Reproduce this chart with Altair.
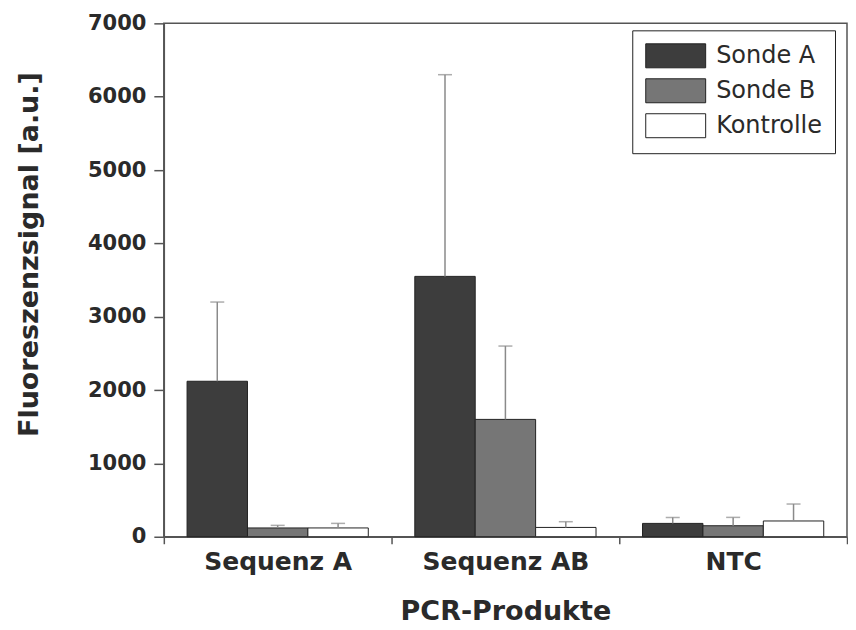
import altair as alt
import pandas as pd

categories = ["Sequenz A", "Sequenz AB", "NTC"]
probes = ["Sonde A", "Sonde B", "Kontrolle"]
colors = ["#3d3d3d", "#767676", "#ffffff"]

sonde_a_mean = [2120, 3550, 182]
sonde_a_err = [1080, 2750, 82]
sonde_b_mean = [120, 1600, 150]
sonde_b_err = [35, 1000, 114]
kontrolle_mean = [120, 127, 215]
kontrolle_err = [62, 78, 231]

y_ticks = list(range(0, 7001, 500))

rows = []
for probe, means, errs in [("Sonde A", sonde_a_mean, sonde_a_err),
                           ("Sonde B", sonde_b_mean, sonde_b_err),
                           ("Kontrolle", kontrolle_mean, kontrolle_err)]:
    for c, m, e in zip(categories, means, errs):
        rows.append({"cat": c, "probe": probe, "mean": m, "upper": m + e})
df = pd.DataFrame(rows)

FONT = "DejaVu Sans"
TXT = "#2a2a2a"
AX = "#555555"

x_enc = alt.X("cat:N", sort=categories,
              scale=alt.Scale(paddingInner=0, paddingOuter=0),
              axis=alt.Axis(title="PCR-Produkte", labelAngle=0, tickBand="extent",
                            tickSize=7, tickColor=AX, tickWidth=1.5,
                            domainColor=AX, domainWidth=1.5,
                            labelFont=FONT, labelFontWeight="bold", labelFontSize=25,
                            labelColor=TXT, labelPadding=6,
                            titleFont=FONT, titleFontWeight="bold", titleFontSize=27,
                            titleColor=TXT, titlePadding=24))
xo_enc = alt.XOffset("probe:N", sort=probes,
                     scale=alt.Scale(paddingInner=0, paddingOuter=0.385))
y_scale = alt.Scale(domain=[0, 7000], nice=False)
y_axis = alt.Axis(title="Fluoreszenzsignal [a.u.]", values=y_ticks, format="d",
                  labelExpr="datum.value % 1000 == 0 ? datum.label : ''",
                  tickSize=10, tickColor=AX, tickWidth=1.5,
                  tickDash={"condition": {"test": "datum.value % 1000 != 0", "value": [4, 30]},
                            "value": [20, 0]},
                  domainColor=AX, domainWidth=1.5, grid=False,
                  labelFont=FONT, labelFontWeight="bold", labelFontSize=21,
                  labelColor=TXT, labelPadding=8,
                  titleFont=FONT, titleFontWeight="bold", titleFontSize=27,
                  titleColor=TXT, titlePadding=44, titleY=231)

bars = alt.Chart(df).mark_bar(stroke="#222222", strokeWidth=1, opacity=1).encode(
    x=x_enc,
    xOffset=xo_enc,
    y=alt.Y("mean:Q", scale=y_scale, axis=y_axis),
    color=alt.Color("probe:N", sort=probes,
                    scale=alt.Scale(domain=probes, range=colors),
                    legend=alt.Legend(title=None, orient="none", legendX=469, legendY=7,
                                      symbolType="M-1,-1H4V1H-1Z", symbolSize=576,
                                      symbolStrokeColor="#222222", symbolStrokeWidth=1,
                                      symbolOpacity=1,
                                      labelOffset=46, labelFont=FONT, labelFontSize=24,
                                      labelColor=TXT, rowPadding=6, padding=13,
                                      fillColor="white", strokeColor="#222222")),
)

rules = alt.Chart(df).mark_rule(color="#8a8a8a", strokeWidth=1.5).encode(
    x=alt.X("cat:N", sort=categories),
    xOffset=alt.XOffset("probe:N", sort=probes),
    y=alt.Y("mean:Q"),
    y2="upper:Q",
)

caps = alt.Chart(df).mark_tick(color="#8a8a8a", thickness=1.5, size=14).encode(
    x=alt.X("cat:N", sort=categories),
    xOffset=alt.XOffset("probe:N", sort=probes),
    y=alt.Y("upper:Q"),
)

chart = alt.layer(bars, rules, caps).properties(
    width=684, height=514,
    padding={"left": 7, "top": 4, "right": 0, "bottom": 4},
    background="white",
).configure_view(stroke=AX, strokeWidth=1.5)

chart.save("out.html", embed_options={"renderer": "svg", "actions": False})
